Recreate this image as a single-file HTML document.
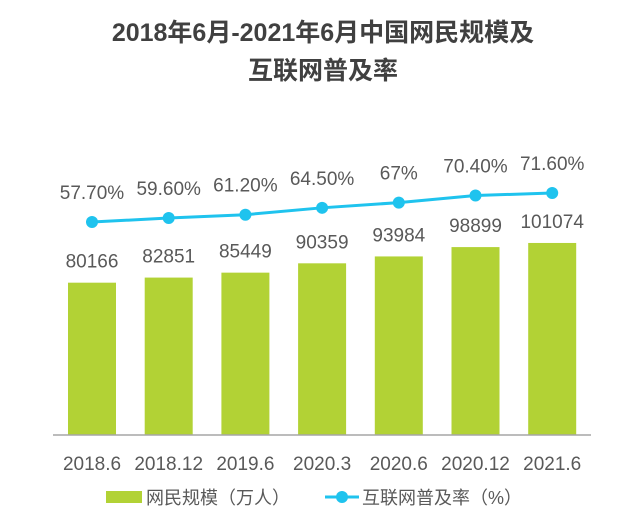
<!DOCTYPE html>
<html><head><meta charset="utf-8"><style>
body{margin:0;background:#fff;}
svg text{font-family:"Liberation Sans","Noto Sans CJK SC",sans-serif;}
</style></head><body>
<svg width="639" height="516" viewBox="0 0 639 516">
<text x="323" y="41" text-anchor="middle" font-size="25" font-weight="bold" fill="#404040">2018年6月-2021年6月中国网民规模及</text>
<text x="323" y="79" text-anchor="middle" font-size="25" font-weight="bold" fill="#404040">互联网普及率</text>
<g id="bars"></g><g id="line"></g><g id="labels"></g>
<line x1="53" y1="435" x2="591" y2="435" stroke="#a6a6a6" stroke-width="1.5"/>
<rect x="106" y="491" width="36" height="12" fill="#b2d235"/>
<text x="146" y="504" font-size="18" fill="#595959">网民规模（万人）</text>
<line x1="325" y1="497" x2="359" y2="497" stroke="#1fc3ee" stroke-width="3"/>
<circle cx="342" cy="497" r="6" fill="#1fc3ee"/>
<text x="362" y="504" font-size="18" fill="#595959">互联网普及率（%）</text>
</svg>
<script>
const categories=["2018.6","2018.12","2019.6","2020.3","2020.6","2020.12","2021.6"];
const users=[80166,82851,85449,90359,93984,98899,101074];
const rates=[57.7,59.6,61.2,64.5,67,70.4,71.6];
const rateLabels=["57.70%","59.60%","61.20%","64.50%","67%","70.40%","71.60%"];
const NS="http://www.w3.org/2000/svg";
const xc=i=>92+i*76.7;
const yBar=v=>435-v*0.0019;
const yRate=p=>222-(p-57.7)*2.086;
function mk(tag,attrs,parent,txt){const e=document.createElementNS(NS,tag);for(const k in attrs)e.setAttribute(k,attrs[k]);if(txt!=null)e.textContent=txt;document.getElementById(parent).appendChild(e);return e;}
categories.forEach((c,i)=>{
  const b=mk('rect',{x:xc(i)-24,y:yBar(users[i]),width:48,height:435-yBar(users[i]),fill:'#b2d235'},'bars');
  
  
  const t=mk('text',{x:xc(i),y:yBar(users[i])-15,'text-anchor':'middle','font-size':'19',fill:'#595959'},'labels',String(users[i]));
  
  
  const r=mk('text',{x:xc(i),y:yRate(rates[i])-23,'text-anchor':'middle','font-size':'19',fill:'#595959'},'labels',rateLabels[i]);
  
  
  const xl=mk('text',{x:xc(i),y:470,'text-anchor':'middle','font-size':'19',fill:'#595959'},'labels',c);
  
  
});
const pl=mk('polyline',{points:rates.map((p,i)=>xc(i)+','+yRate(p)).join(' '),fill:'none',stroke:'#1fc3ee','stroke-width':'3'},'line');


rates.forEach((p,i)=>{
  const c=mk('circle',{cx:xc(i),cy:yRate(p),r:6,fill:'#1fc3ee'},'line');
  
  
});
</script>
</body></html>
